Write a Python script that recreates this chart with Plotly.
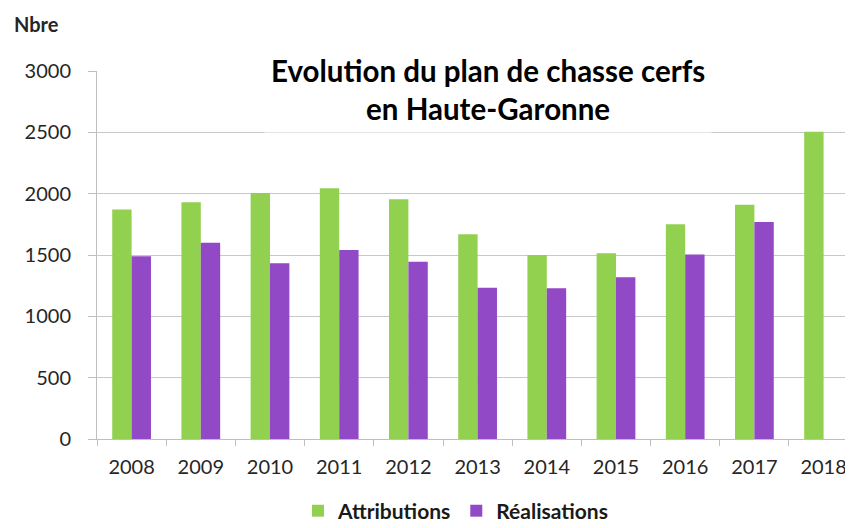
import plotly.graph_objects as go

years = ["2008", "2009", "2010", "2011", "2012", "2013", "2014", "2015", "2016", "2017", "2018"]
attributions = [1870, 1930, 2005, 2045, 1955, 1670, 1500, 1515, 1750, 1910, 2505]
realisations = [1490, 1600, 1432, 1540, 1445, 1233, 1228, 1318, 1505, 1770, None]
y_ticks = [0, 500, 1000, 1500, 2000, 2500, 3000]

GREEN = "#92D050"
PURPLE = "#9249C6"
FONT = "Lato"

fig = go.Figure()
fig.add_trace(go.Bar(x=years, y=attributions, name="Attributions", marker=dict(color=GREEN, line=dict(width=0))))
fig.add_trace(go.Bar(x=years, y=realisations, name="Réalisations", marker=dict(color=PURPLE, line=dict(width=0))))

# page body has an 8px default margin: figure is placed at (8, 8)
fig.update_layout(
    width=845, height=520,
    margin=dict(l=89, r=0, t=63, b=89, autoexpand=False),
    paper_bgcolor="white", plot_bgcolor="white",
    barmode="group", bargap=0.44, bargroupgap=0,
    font=dict(family=FONT, size=20, color="#262626"),
    showlegend=True,
    legend=dict(orientation="h", x=(298 - 97) / 756, xanchor="left", y=-0.14, yanchor="top",
                font=dict(family=FONT, size=21, color="#1a1a1a", weight="bold"),
                itemwidth=30, traceorder="normal", bgcolor="rgba(0,0,0,0)"),
    xaxis=dict(type="category", range=[-0.5, 10.425], showline=True, linecolor="#bfbfbf", linewidth=1,
               ticks="outside", ticklen=6, tickcolor="#bfbfbf", tickson="boundaries",
               tickfont=dict(size=20, color="#262626"), ticklabelstandoff=10, showgrid=False),
    yaxis=dict(range=[0, 3000], tickvals=y_ticks, showline=True, linecolor="#bfbfbf", linewidth=1,
               ticks="outside", ticklen=8, tickcolor="#bfbfbf", gridcolor="#c8c8c8", gridwidth=1,
               tickfont=dict(size=20, color="#262626"), ticklabelstandoff=13, zeroline=False),
)

fig.add_annotation(xref="paper", yref="paper", x=0.517, y=1.0, yanchor="middle", xanchor="center",
                   yshift=-18.5,
                   text="<b>Evolution du plan de chasse cerfs</b><br><b>en Haute-Garonne</b>",
                   showarrow=False, font=dict(family=FONT, size=29.5, color="#000000"),
                   bgcolor="white", borderpad=6, align="center")

fig.add_annotation(xref="paper", yref="paper", x=-0.1128, y=1.129, xanchor="left", yanchor="middle",
                   text="<b>Nbre</b>", showarrow=False, font=dict(family=FONT, size=20, color="#262626"))

fig.write_html("out.html")
